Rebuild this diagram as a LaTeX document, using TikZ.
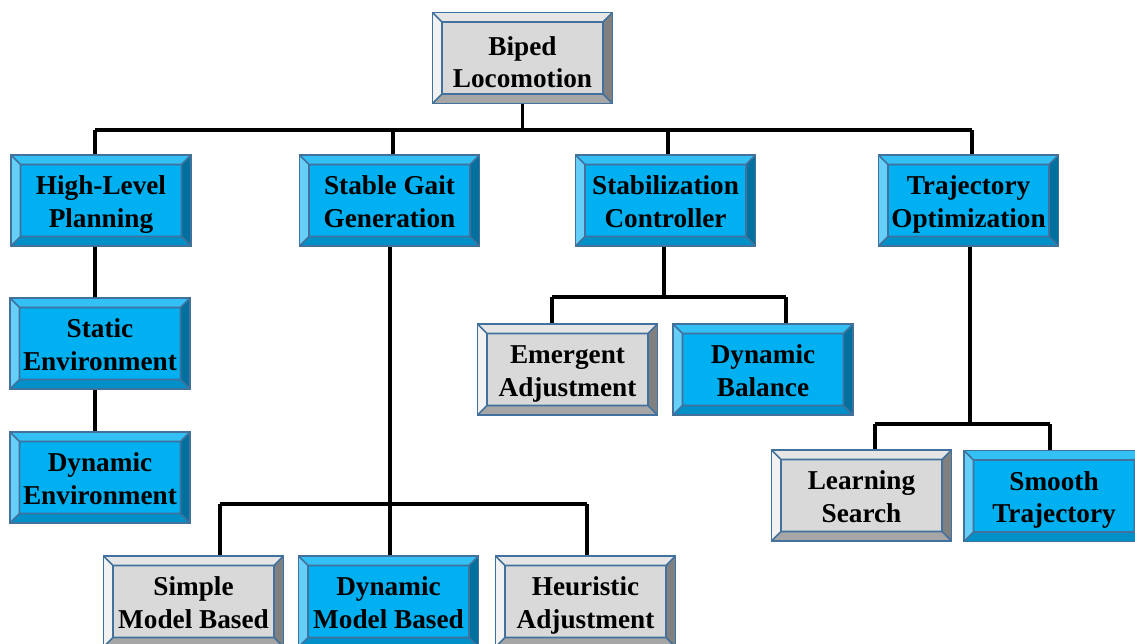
\documentclass[tikz,border=0pt]{standalone}
\usepackage{fontspec}
\setmainfont{Liberation Serif}
\usetikzlibrary{calc}

\definecolor{edge}{HTML}{41719C}
% blue bevel box
\definecolor{bFace}{HTML}{00B0F0}
\definecolor{bTop}{HTML}{33C0F4}
\definecolor{bLeft}{HTML}{66CFF7}
\definecolor{bRight}{HTML}{00709E}
\definecolor{bBot}{HTML}{0090C8}
% grey bevel box
\definecolor{gFace}{HTML}{D9D9D9}
\definecolor{gTop}{HTML}{E6E6E6}
\definecolor{gLeft}{HTML}{F2F2F2}
\definecolor{gRight}{HTML}{808080}
\definecolor{gBot}{HTML}{A6A6A6}

% four bevel faces plus the inner panel outline
\newcommand\bevelparts[4]{%
  \def\bb{path picture bounding box}%
  \def\dd{0.19cm}%
  \fill[#1] (\bb.north west) -- (\bb.north east)
     -- ([xshift=-\dd,yshift=-\dd]\bb.north east) -- ([xshift=\dd,yshift=-\dd]\bb.north west) -- cycle;
  \fill[#2] (\bb.north west) -- (\bb.south west)
     -- ([xshift=\dd,yshift=\dd]\bb.south west) -- ([xshift=\dd,yshift=-\dd]\bb.north west) -- cycle;
  \fill[#3] (\bb.north east) -- (\bb.south east)
     -- ([xshift=-\dd,yshift=\dd]\bb.south east) -- ([xshift=-\dd,yshift=-\dd]\bb.north east) -- cycle;
  \fill[#4] (\bb.south west) -- (\bb.south east)
     -- ([xshift=-\dd,yshift=\dd]\bb.south east) -- ([xshift=\dd,yshift=\dd]\bb.south west) -- cycle;
  \draw[edge,line width=0.9pt]
     ([xshift=\dd,yshift=\dd]\bb.south west) rectangle ([xshift=-\dd,yshift=-\dd]\bb.north east)
     (\bb.north west) -- ([xshift=\dd,yshift=-\dd]\bb.north west)
     (\bb.north east) -- ([xshift=-\dd,yshift=-\dd]\bb.north east)
     (\bb.south west) -- ([xshift=\dd,yshift=\dd]\bb.south west)
     (\bb.south east) -- ([xshift=-\dd,yshift=\dd]\bb.south east);
}

% two-line label with fixed line struts; optional arg = height of the first line
\newcommand\twolines[3][17pt]{\rule{0pt}{#1}#2\\#3\rule[-5pt]{0pt}{5pt}}

\tikzset{
  box/.style={draw=edge, line width=1.1pt, rectangle, inner sep=0pt,
    minimum width=3.6cm, minimum height=1.82cm, align=center,
    font=\fontsize{15.5}{18.6}\selectfont\bfseries},
  bluebox/.style={box, fill=bFace, path picture={\bevelparts{bTop}{bLeft}{bRight}{bBot}}},
  greybox/.style={box, fill=gFace, path picture={\bevelparts{gTop}{gLeft}{gRight}{gBot}}},
  link/.style={line width=2pt, black}
}

\begin{document}
\begin{tikzpicture}[x=0.02cm, y=-0.02cm]
  \useasboundingbox (0,0) rectangle (1135,643);

  % tree nodes
  \node[greybox] (root) at (522.5,58) {\twolines[20.5pt]{Biped}{Locomotion}};

  \node[bluebox] (hlp) at (101,200.5) {\twolines{High-Level}{Planning}};
  \node[bluebox] (sgg) at (389.5,200.5) {\twolines{Stable Gait}{Generation}};
  \node[bluebox] (sc)  at (665.5,200.5) {\twolines{Stabilization}{Controller}};
  \node[bluebox] (to)  at (968.5,200.5) {\twolines{Trajectory}{Optimization}};

  \node[bluebox] (senv) at (100,343.5) {\twolines{Static}{Environment}};
  \node[bluebox] (denv) at (100,477.5) {\twolines{Dynamic}{Environment}};

  \node[greybox] (emer) at (567.5,369.5) {\twolines{Emergent}{Adjustment}};
  \node[bluebox] (dbal) at (763,369.5) {\twolines{Dynamic}{Balance}};

  \node[greybox] (lsrch)  at (861.5,495.5) {\twolines{Learning}{Search}};
  \node[bluebox] (smooth) at (1054,496) {\twolines{Smooth}{Trajectory}};

  \node[greybox] (smb) at (193.5,601.5) {\twolines{Simple}{Model Based}};
  \node[bluebox] (dmb) at (388.5,601.5) {\twolines{Dynamic}{Model Based}};
  \node[greybox] (heur) at (585.5,601.5) {\twolines{Heuristic}{Adjustment}};

  % bus levels
  \coordinate (busA) at (0,130);
  \coordinate (busB) at (0,504);
  \coordinate (busC) at (0,297);
  \coordinate (busD) at (0,424);

  % attachment points on the boxes
  \coordinate (hlpT) at ([xshift=-0.12cm]hlp.north);
  \coordinate (sggT) at ([xshift=0.07cm]sgg.north);
  \coordinate (scT)  at ([xshift=0.05cm]sc.north);
  \coordinate (toT)  at ([xshift=0.07cm]to.north);
  \coordinate (hlpB) at ([xshift=-0.12cm]hlp.south);
  \coordinate (senvT) at ([xshift=-0.10cm]senv.north);
  \coordinate (senvB) at ([xshift=-0.10cm]senv.south);
  \coordinate (denvT) at ([xshift=-0.10cm]denv.north);
  \coordinate (sggB) at ([xshift=0.01cm]sgg.south);
  \coordinate (smbT) at ([xshift=0.53cm]smb.north);
  \coordinate (dmbT) at ([xshift=0.03cm]dmb.north);
  \coordinate (heurT) at ([xshift=0.03cm]heur.north);
  \coordinate (scB)  at ([xshift=-0.03cm]sc.south);
  \coordinate (emerT) at ([xshift=-0.31cm]emer.north);
  \coordinate (dbalT) at ([xshift=0.46cm]dbal.north);
  \coordinate (toB)  at ([xshift=0.03cm]to.south);
  \coordinate (lsrchT) at ([xshift=0.27cm]lsrch.north);
  \coordinate (smoothT) at ([xshift=-0.08cm]smooth.north);

  % connectors
  \draw[link] (root.south) -- (root |- busA);
  \draw[link] (hlpT |- busA) -- (toT |- busA);
  \foreach \n in {hlpT,sggT,scT,toT} \draw[link] (\n |- busA) -- (\n);

  \draw[link] (hlpB) -- (senvT);
  \draw[link] (senvB) -- (denvT);

  \draw[link] (sggB) -- (sggB |- busB);
  \draw[link] (smbT |- busB) -- (heurT |- busB);
  \foreach \n in {smbT,dmbT,heurT} \draw[link] (\n |- busB) -- (\n);

  \draw[link] (scB) -- (scB |- busC);
  \draw[link] (emerT |- busC) -- (dbalT |- busC);
  \foreach \n in {emerT,dbalT} \draw[link] (\n |- busC) -- (\n);

  \draw[link] (toB) -- (toB |- busD);
  \draw[link] (lsrchT |- busD) -- (smoothT |- busD);
  \foreach \n in {lsrchT,smoothT} \draw[link] (\n |- busD) -- (\n);
\end{tikzpicture}
\end{document}
